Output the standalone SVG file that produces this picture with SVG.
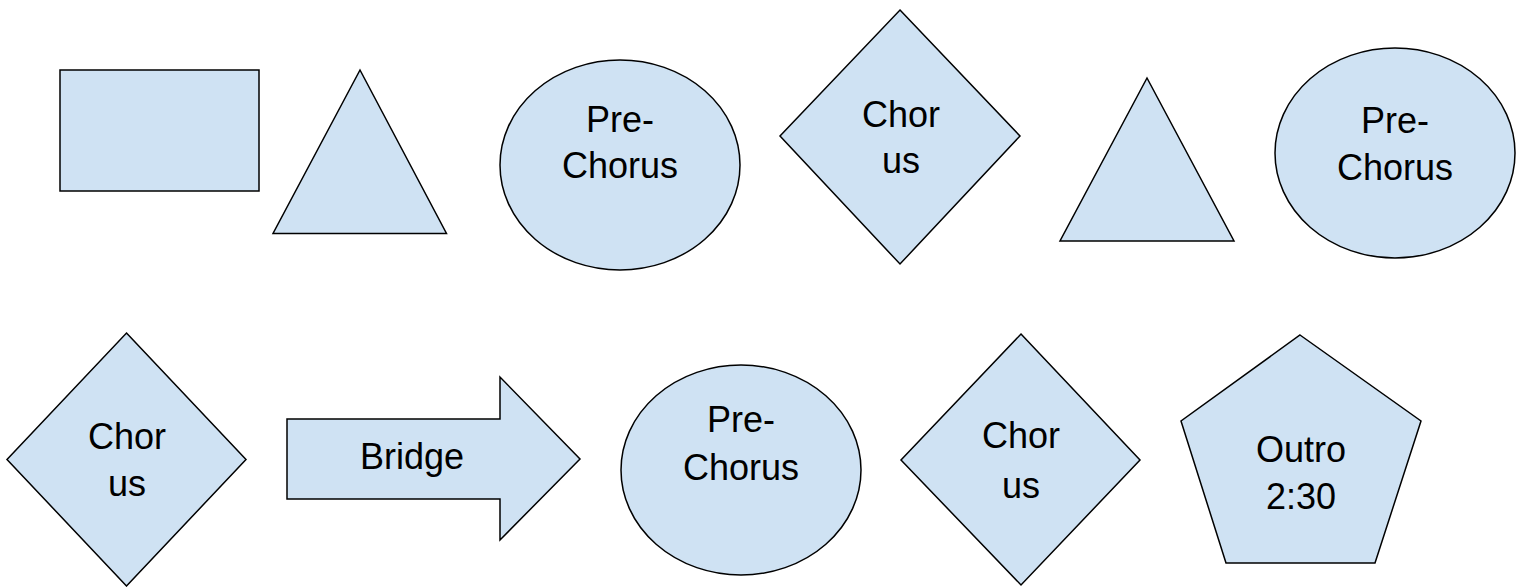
<svg xmlns="http://www.w3.org/2000/svg" width="1523" height="587" viewBox="0 0 1523 587">
<style>
.s{fill:#cfe2f3;stroke:#000;stroke-width:1.5;stroke-linejoin:miter}
.t{font-family:"Liberation Sans",Arial,sans-serif;font-size:36px;fill:#000;text-anchor:middle}
</style>
<rect width="1523" height="587" fill="#fff"/>
<g id="rect1"><rect class="s" x="60" y="70" width="199" height="121"/></g>
<g id="tri1"><polygon class="s" points="360,70 446.5,233.5 273,233.5"/></g>
<g id="circle1"><ellipse class="s" cx="620" cy="165" rx="120" ry="105"/>
<text class="t" x="620" y="132">Pre-</text><text class="t" x="620" y="178">Chorus</text></g>
<g id="diamond1"><polygon class="s" points="900,10 1020,136 900,264 780,136"/>
<text class="t" x="901" y="127">Chor</text><text class="t" x="901" y="173">us</text></g>
<g id="tri2"><polygon class="s" points="1147,78 1234,241 1060,241"/></g>
<g id="circle2"><ellipse class="s" cx="1395" cy="153" rx="120" ry="105"/>
<text class="t" x="1395" y="133">Pre-</text><text class="t" x="1395" y="180">Chorus</text></g>
<g id="diamond2"><polygon class="s" points="126.5,333 246,459.5 126.5,586 7,459.5"/>
<text class="t" x="127" y="449">Chor</text><text class="t" x="127" y="496">us</text></g>
<g id="arrow"><polygon class="s" points="287,419 500,419 500,377 580,459 500,540 500,499 287,499"/>
<text class="t" x="412" y="469">Bridge</text></g>
<g id="circle3"><ellipse class="s" cx="741" cy="470" rx="120" ry="105"/>
<text class="t" x="741" y="432">Pre-</text><text class="t" x="741" y="480">Chorus</text></g>
<g id="diamond3"><polygon class="s" points="1021,334 1140,460 1021,585 901,460"/>
<text class="t" x="1021" y="448">Chor</text><text class="t" x="1021" y="498">us</text></g>
<g id="pentagon"><polygon class="s" points="1300,335 1421,421 1375,563 1226,563 1181,421"/>
<text class="t" x="1301" y="462">Outro</text><text class="t" x="1301" y="509">2:30</text></g>
<g id="connectors"></g>
</svg>
